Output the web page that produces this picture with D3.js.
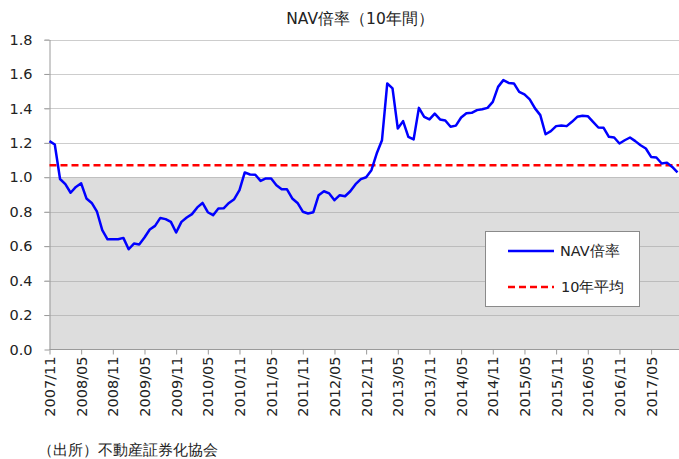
<!DOCTYPE html>
<html>
<head>
<meta charset="utf-8">
<script src="https://cdn.jsdelivr.net/npm/d3@7"></script>
<style>
  body { margin: 0; background: #fff; }
  svg text { font-family: "DejaVu Sans", Verdana, sans-serif; }
</style>
</head>
<body>
<div id="chart"></div>
<script>
// NAV倍率 月次データ (2007/11 - 2017/10)
var startYear = 2007, startMonth = 11;
var navValues = [
  1.21, 1.19, 0.99, 0.96, 0.91, 0.944, 0.965, 0.877, 0.851, 0.80,
  0.693, 0.64, 0.64, 0.64, 0.648, 0.582, 0.615, 0.61, 0.65, 0.697,
  0.718, 0.764, 0.757, 0.741, 0.679, 0.741, 0.766, 0.786, 0.825, 0.851,
  0.797, 0.78, 0.819, 0.82, 0.851, 0.873, 0.925, 1.028, 1.016, 1.015,
  0.979, 0.993, 0.993, 0.954, 0.931, 0.93, 0.877, 0.851, 0.80, 0.79,
  0.797, 0.896, 0.919, 0.906, 0.867, 0.896, 0.89, 0.919, 0.96, 0.989,
  1.0, 1.041, 1.138, 1.215, 1.545, 1.516, 1.283, 1.326, 1.235, 1.22,
  1.403, 1.351, 1.336, 1.37, 1.336, 1.33, 1.293, 1.30, 1.347, 1.372,
  1.374, 1.39, 1.395, 1.403, 1.438, 1.525, 1.564, 1.548, 1.545, 1.496,
  1.481, 1.452, 1.40, 1.361, 1.25, 1.268, 1.297, 1.30, 1.297, 1.322,
  1.351, 1.357, 1.355, 1.322, 1.289, 1.287, 1.235, 1.231, 1.196, 1.215,
  1.231, 1.21, 1.186, 1.167, 1.118, 1.115, 1.08, 1.085, 1.06, 1.028
];
var avg10y = 1.07;
var yTicks = [0, 0.2, 0.4, 0.6, 0.8, 1.0, 1.2, 1.4, 1.6, 1.8];
var xTickLabels = ["2007/11", "2008/05", "2008/11", "2009/05", "2009/11", "2010/05",
  "2010/11", "2011/05", "2011/11", "2012/05", "2012/11", "2013/05", "2013/11",
  "2014/05", "2014/11", "2015/05", "2015/11", "2016/05", "2016/11", "2017/05"];

// 月ラベル
var months = navValues.map(function (d, i) {
  var m = startMonth - 1 + i;
  var yr = startYear + Math.floor(m / 12);
  var mm = (m % 12) + 1;
  return yr + "/" + (mm < 10 ? "0" + mm : mm);
});
var data = navValues.map(function (v, i) { return { date: months[i], value: v }; });

var width = 679, height = 459;
var plotLeft = 49.5, plotRight = 677.5, plotTop = 39.5, plotBottom = 349.5;

var svg = d3.select("#chart").append("svg")
  .attr("width", width)
  .attr("height", height);

var x = d3.scalePoint().domain(months).range([plotLeft, plotRight]);
var y = d3.scaleLinear().domain([0, 1.8]).range([plotBottom, plotTop]);

// 1.0以下の灰色の背景
svg.append("rect")
  .attr("x", plotLeft)
  .attr("y", y(1.0))
  .attr("width", width - plotLeft)
  .attr("height", plotBottom - y(1.0))
  .attr("fill", "#dddddd");

// グリッド線
svg.append("g")
  .selectAll("line")
  .data(yTicks.filter(function (d) { return d > 0; }))
  .enter().append("line")
  .attr("x1", plotLeft - 5).attr("x2", width)
  .attr("y1", function (d) { return Math.round(y(d)) + 0.5; })
  .attr("y2", function (d) { return Math.round(y(d)) + 0.5; })
  .attr("stroke", "#9a9a9a")
  .attr("stroke-dasharray", "1,1");

// Y軸
var yAxis = svg.append("g")
  .attr("transform", "translate(" + plotLeft + ",0)")
  .call(d3.axisLeft(y).tickValues(yTicks).tickFormat(d3.format(".1f")).tickSize(5).tickSizeOuter(0))
  .attr("font-family", null);
yAxis.select(".domain").attr("stroke", "#9a9a9a");
yAxis.selectAll(".tick line").attr("stroke", "#9a9a9a");
yAxis.selectAll("text")
  .attr("x", -17)
  .style("font-size", "14.5px")
  .attr("fill", "#222");

// X軸
var xAxis = svg.append("g")
  .attr("transform", "translate(0," + plotBottom + ")")
  .call(d3.axisBottom(x).tickValues(xTickLabels).tickSize(5).tickSizeOuter(0))
  .attr("font-family", null);
xAxis.select(".domain").attr("stroke", "#9a9a9a").attr("d", "M" + plotLeft + ",0H" + width);
xAxis.selectAll(".tick line").attr("stroke", "#9a9a9a");
xAxis.selectAll("text")
  .attr("transform", "rotate(-90)")
  .attr("x", -7)
  .attr("y", 0)
  .attr("dy", "0.35em")
  .style("text-anchor", "end")
  .style("font-size", "14.5px")
  .attr("fill", "#222");

// 10年平均
svg.append("line")
  .attr("x1", plotLeft).attr("x2", width)
  .attr("y1", y(avg10y)).attr("y2", y(avg10y))
  .attr("stroke", "#ff0000")
  .attr("stroke-width", 2.5)
  .attr("stroke-dasharray", "7,4");

// NAV倍率の線
var line = d3.line()
  .x(function (d) { return x(d.date); })
  .y(function (d) { return y(d.value); });
svg.append("path")
  .datum(data)
  .attr("d", line)
  .attr("fill", "none")
  .attr("stroke", "#0000ff")
  .attr("stroke-width", 2.5)
  .attr("stroke-linejoin", "round");

// タイトル
svg.append("text")
  .attr("x", 360).attr("y", 24)
  .attr("text-anchor", "middle")
  .style("font-size", "15.5px")
  .attr("fill", "#222")
  .text("NAV倍率（10年間）");

// 凡例
var legend = svg.append("g");
legend.append("rect")
  .attr("x", 485.5).attr("y", 231.5)
  .attr("width", 154).attr("height", 75)
  .attr("fill", "#fff")
  .attr("stroke", "#8a8a8a");
legend.append("line")
  .attr("x1", 508).attr("x2", 554).attr("y1", 251).attr("y2", 251)
  .attr("stroke", "#0000ff").attr("stroke-width", 2.5);
legend.append("text")
  .attr("x", 560).attr("y", 251).attr("dy", "0.35em")
  .style("font-size", "14.5px").attr("fill", "#222")
  .text("NAV倍率");
legend.append("line")
  .attr("x1", 508).attr("x2", 554).attr("y1", 287).attr("y2", 287)
  .attr("stroke", "#ff0000").attr("stroke-width", 2.5)
  .attr("stroke-dasharray", "7,4");
legend.append("text")
  .attr("x", 561).attr("y", 287).attr("dy", "0.35em")
  .style("font-size", "14.5px").attr("fill", "#222")
  .text("10年平均");

// 出所
svg.append("text")
  .attr("x", 38).attr("y", 455)
  .style("font-size", "15px")
  .attr("fill", "#222")
  .text("（出所）不動産証券化協会");
</script>
</body>
</html>
